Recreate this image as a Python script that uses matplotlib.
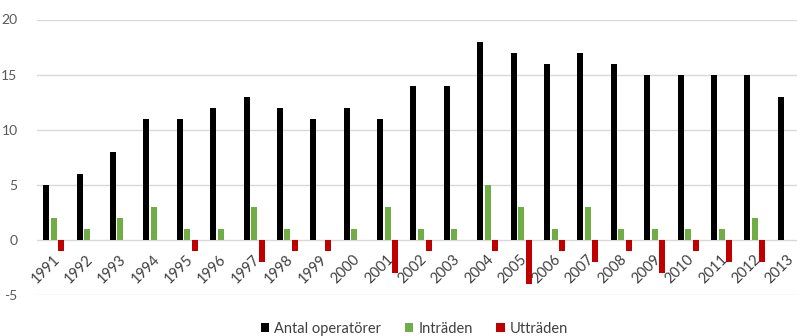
import matplotlib
matplotlib.use("Agg")
import matplotlib.pyplot as plt
import numpy as np
from matplotlib.patches import Patch

years = [str(y) for y in range(1991, 2014)]
antal = [5, 6, 8, 11, 11, 12, 13, 12, 11, 12, 11, 14, 14, 18, 17, 16, 17, 16, 15, 15, 15, 15, 13]
intraden = [2, 1, 2, 3, 1, 1, 3, 1, 0, 1, 3, 1, 1, 5, 3, 1, 3, 1, 1, 1, 1, 2, 0]
uttraden = [-1, 0, 0, 0, -1, 0, -2, -1, -1, 0, -3, -1, 0, -1, -4, -1, -2, -1, -3, -1, -2, -2, 0]
series_names = ["Antal operatörer", "Inträden", "Utträden"]
colors = ["#000000", "#70ad47", "#c00000"]

plt.rcParams['font.family'] = ['Lato', 'DejaVu Sans']
plt.rcParams['axes.unicode_minus'] = False

W, H = 797, 336
fig = plt.figure(figsize=(W / 100, H / 100), dpi=100)
left_px, right_px = 37, 805
top_px, bot_px = 19.5, 295
ax = fig.add_axes([left_px / W, (H - bot_px) / H, (right_px - left_px) / W, (bot_px - top_px) / H])

x = np.arange(len(years))
bw = 0.18
off = 0.225
for i, (vals, c, name) in enumerate(zip([antal, intraden, uttraden], colors, series_names)):
    ax.bar(x + (i - 1) * off, vals, width=bw, color=c, label=name, zorder=3)

ax.set_xlim(-0.5, len(years) - 0.5)
ax.set_ylim(-5, 20)
ax.set_yticks([-5, 0, 5, 10, 15, 20])
ax.grid(axis='y', color='#d9d9d9', linewidth=1.0, zorder=0)
for s in ax.spines.values():
    s.set_visible(False)
ax.tick_params(axis='y', length=0, pad=14, labelsize=10, labelcolor='#595959')
ax.set_xticks([])

for i, lab in enumerate(years):
    ax.text(i - 0.04, -1.15, lab, rotation=45, ha='right', va='top',
            rotation_mode='anchor', fontsize=10.5, color='#404040', zorder=4)

handles = [Patch(facecolor=c, edgecolor='none') for c in colors]
fig.legend(handles, series_names, loc='center', bbox_to_anchor=(0.52, 0.022),
           ncol=3, frameon=False, fontsize=10.5, handlelength=0.6, handleheight=0.6,
           handletextpad=0.35, columnspacing=1.6, labelcolor='#404040')

fig.savefig("out.png", dpi=100)
